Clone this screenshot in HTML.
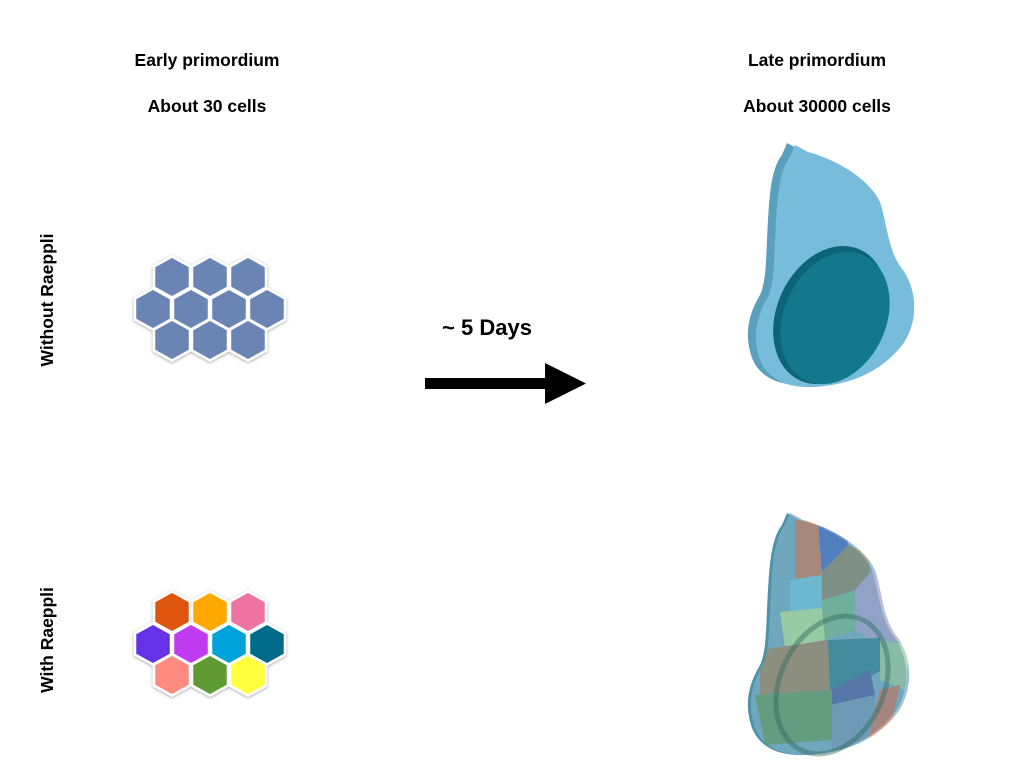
<!DOCTYPE html>
<html><head><meta charset="utf-8"><style>
html,body{margin:0;padding:0;background:#fff;}
svg{display:block;}
text{font-family:"Liberation Sans",Arial,sans-serif;font-weight:bold;fill:#000;}
</style></head><body>
<svg width="1024" height="768" viewBox="0 0 1024 768" xmlns="http://www.w3.org/2000/svg">
<defs>
<polygon id="hx" points="0,-20.5 18,-10.5 18,10.5 0,20.5 -18,10.5 -18,-10.5"/>
<path id="blob" d="M787,143 L800,150 C830,158 862,178 872,200 C880,225 880,250 895,268 C910,290 910,320 895,342 C875,368 845,383 805,385 C780,386 760,378 752,358 C744,335 748,315 760,295 C766,282 766,260 767,240 C769,200 770,170 782,155 Z"/>
<clipPath id="cb"><use href="#blob" transform="translate(3,370)"/></clipPath>
<filter id="sh" x="-20%" y="-20%" width="140%" height="140%"><feDropShadow dx="0" dy="1" stdDeviation="1.5" flood-color="#000" flood-opacity="0.35"/></filter>
</defs>

<text x="207" y="66" font-size="17.5" text-anchor="middle">Early primordium</text>
<text x="207" y="112" font-size="17.5" text-anchor="middle">About 30 cells</text>
<text x="817" y="66" font-size="17.5" text-anchor="middle">Late primordium</text>
<text x="817" y="112" font-size="17.5" text-anchor="middle">About 30000 cells</text>
<text transform="translate(53,300) rotate(-90)" font-size="17.5" text-anchor="middle">Without Raeppli</text>
<text transform="translate(53,640) rotate(-90)" font-size="17.5" text-anchor="middle">With Raeppli</text>
<text x="487" y="335" font-size="22" text-anchor="middle">~ 5 Days</text>

<rect x="425" y="378" width="125" height="11" fill="#000"/>
<polygon points="545,363 586,383.5 545,404" fill="#000"/>

<g fill="#6b84b3" stroke="#fff" stroke-width="2.5" filter="url(#sh)">
<use href="#hx" x="172" y="277"/><use href="#hx" x="210" y="277"/><use href="#hx" x="248" y="277"/>
<use href="#hx" x="153" y="309"/><use href="#hx" x="191" y="309"/><use href="#hx" x="229" y="309"/><use href="#hx" x="267" y="309"/>
<use href="#hx" x="172" y="340"/><use href="#hx" x="210" y="340"/><use href="#hx" x="248" y="340"/>
</g>

<g stroke="#fff" stroke-width="2.5" filter="url(#sh)">
<use href="#hx" x="172" y="612" fill="#e05508"/><use href="#hx" x="210" y="612" fill="#ffa800"/><use href="#hx" x="248" y="612" fill="#ee72a2"/>
<use href="#hx" x="153" y="644" fill="#6633e8"/><use href="#hx" x="191" y="644" fill="#c03af0"/><use href="#hx" x="229" y="644" fill="#00a2dc"/><use href="#hx" x="267" y="644" fill="#006c8a"/>
<use href="#hx" x="172" y="675" fill="#ff8a80"/><use href="#hx" x="210" y="675" fill="#5e9a32"/><use href="#hx" x="248" y="675" fill="#ffff3c"/>
</g>

<use href="#blob" fill="#5a9fbc"/>
<use href="#blob" fill="#77bddb" transform="translate(8,2)"/>
<ellipse cx="830" cy="315" rx="53" ry="72" transform="rotate(25 830 315)" fill="#0b6478"/>
<ellipse cx="835" cy="318" rx="51" ry="69" transform="rotate(25 835 318)" fill="#13788c"/>

<use href="#blob" fill="#4f93ab" transform="translate(0,370)"/>
<g clip-path="url(#cb)" opacity="0.75">
<rect x="740" y="500" width="200" height="260" fill="#7aaec4"/>
<polygon points="795,520 820,522 822,575 795,580" fill="#c4856e"/>
<polygon points="818,520 850,528 845,560 822,572" fill="#4f78c4"/>
<polygon points="822,572 848,545 870,555 870,585 840,595 822,600" fill="#8e8e78"/>
<polygon points="790,580 822,575 822,608 790,612" fill="#74c4dc"/>
<polygon points="822,600 855,592 858,630 822,640" fill="#7ab896"/>
<polygon points="855,590 872,570 905,640 880,645 855,630" fill="#a6a8d0"/>
<polygon points="780,612 822,608 825,640 785,648" fill="#b0dca0"/>
<polygon points="760,650 828,640 832,690 760,695" fill="#a08c70"/>
<polygon points="828,640 880,638 882,670 855,685 830,690" fill="#3f8a98"/>
<polygon points="880,640 910,645 905,690 880,680" fill="#9cc8a8"/>
<polygon points="830,690 870,670 875,695 830,705" fill="#5a6ea8"/>
<polygon points="755,695 832,690 832,740 765,745" fill="#6a9f70"/>
<polygon points="832,705 875,695 880,750 832,755" fill="#7a9cba"/>
<polygon points="880,690 900,685 890,730 868,740" fill="#c08070"/>
</g>
<ellipse cx="832" cy="685" rx="52" ry="72" transform="rotate(25 832 685)" fill="none" stroke="#2e6a60" stroke-width="5" opacity="0.45"/>
</svg>
</body></html>
